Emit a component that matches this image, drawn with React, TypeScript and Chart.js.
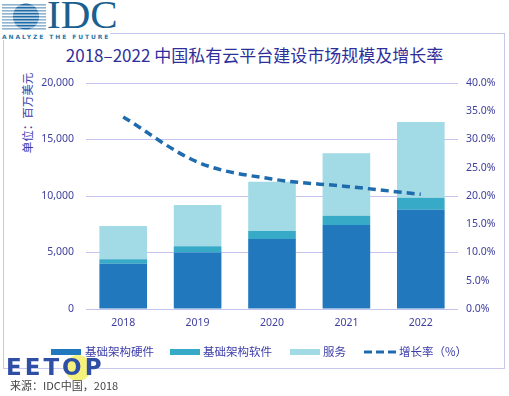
import React, { useEffect, useRef } from "react";
import { Chart, registerables } from "chart.js";
Chart.register(...registerables);

const years = ["2018", "2019", "2020", "2021", "2022"];
const hardware = [4000, 5000, 6200, 7430, 8790];
const software = [400, 550, 700, 830, 1060];
const services = [2950, 3650, 4370, 5520, 6700];
const growth = [34.0, 26.0, 23.0, 21.7, 20.3];

const seriesNames = ["基础架构硬件", "基础架构软件", "服务", "增长率（%）"];
const colors = ["#2178BC", "#36AAC6", "#A2DAE5", "#1F6BAE"];

const tickColor = "#40409f";
const tickFont = { family: "'Noto Sans', sans-serif", size: 10.5 };

export default function App() {
  const ref = useRef<HTMLCanvasElement>(null);

  useEffect(() => {
    if (!ref.current) return;
    const chart = new Chart(ref.current, {
      type: "bar",
      data: {
        labels: years,
        datasets: [
          {
            type: "line",
            label: seriesNames[3],
            data: growth,
            yAxisID: "y1",
            borderColor: colors[3],
            borderWidth: 3.5,
            borderDash: [8, 5],
            pointRadius: 0,
            cubicInterpolationMode: "monotone",
            fill: false,
            order: 0,
          } as any,
          {
            label: seriesNames[0],
            data: hardware,
            backgroundColor: colors[0],
            yAxisID: "y",
            order: 1,
            barPercentage: 0.64,
            categoryPercentage: 1,
          },
          {
            label: seriesNames[1],
            data: software,
            backgroundColor: colors[1],
            yAxisID: "y",
            order: 1,
            barPercentage: 0.64,
            categoryPercentage: 1,
          },
          {
            label: seriesNames[2],
            data: services,
            backgroundColor: colors[2],
            yAxisID: "y",
            order: 1,
            barPercentage: 0.64,
            categoryPercentage: 1,
          },
        ],
      },
      options: {
        animation: false,
        responsive: false,
        maintainAspectRatio: false,
        layout: { padding: { top: 83, bottom: 57, left: 0, right: 0 } },
        plugins: {
          legend: { display: false },
          tooltip: { enabled: false },
          title: { display: false },
        },
        scales: {
          x: {
            stacked: true,
            grid: { display: false, drawTicks: false },
            border: { display: false },
            ticks: { color: tickColor, font: tickFont, padding: 8 },
            afterFit: (s: any) => {
              s.height = 30;
            },
          },
          y: {
            stacked: true,
            position: "left",
            min: 0,
            max: 20000,
            ticks: {
              stepSize: 5000,
              color: tickColor,
              font: tickFont,
              padding: 12,
              callback: (v: any) => Number(v).toLocaleString("en-US"),
            },
            grid: { color: "#c4c4ee", drawTicks: false, lineWidth: 1 },
            border: { display: false },
            afterFit: (s: any) => {
              s.width = 86;
            },
          },
          y1: {
            position: "right",
            min: 0,
            max: 40,
            ticks: {
              stepSize: 5,
              color: tickColor,
              font: tickFont,
              padding: 8,
              callback: (v: any) => Number(v).toFixed(1) + "%",
            },
            grid: { display: false, drawTicks: false },
            border: { display: false },
            afterFit: (s: any) => {
              s.width = 51;
            },
          },
        },
      } as any,
    });
    return () => chart.destroy();
  }, []);

  const cjk = "'Noto Sans CJK SC', sans-serif";
  const legendItems = [
    { x: 51, tx: 85, i: 0 },
    { x: 170, tx: 203, i: 1 },
    { x: 290, tx: 323, i: 2 },
    { x: 364, tx: 399, i: 3 },
  ];

  const stripes = [];
  for (let k = 0; k < 9; k++) {
    const y = 4 + k * 3;
    stripes.push(y);
  }

  return (
    <div
      style={{
        position: "absolute",
        left: 0,
        top: 0,
        width: 509,
        height: 396,
        background: "#fff",
        overflow: "hidden",
      }}
    >
      {/* frame */}
      <div
        style={{
          position: "absolute",
          left: 3,
          top: 33,
          width: 500,
          height: 334,
          border: "1.5px solid #c8c8ec",
        }}
      />
      {/* IDC logo */}
      <svg
        width={50}
        height={32}
        style={{ position: "absolute", left: 0, top: 0 }}
      >
        <defs>
          <clipPath id="g">
            <circle cx={26} cy={16.5} r={13} />
          </clipPath>
        </defs>
        {stripes.map((y, k) => (
          <rect key={"l" + k} x={2} y={y} width={44} height={1.6} fill="#8fb3cf" />
        ))}
        <g clipPath="url(#g)">
          <rect x={0} y={0} width={50} height={32} fill="#1d6aa6" />
          {stripes.map((y, k) => (
            <rect key={"w" + k} x={0} y={y + 1.6} width={50} height={1.1} fill="#ffffff" />
          ))}
        </g>
      </svg>
      <div
        style={{
          position: "absolute",
          left: 47,
          top: -6,
          fontFamily: "'Liberation Serif', serif",
          fontSize: 41,
          color: "#1a5f8f",
          lineHeight: "41px",
        }}
      >
        IDC
      </div>
      <div
        style={{
          position: "absolute",
          left: 2,
          top: 33,
          fontFamily: "'DejaVu Sans', sans-serif",
          fontWeight: "bold",
          fontSize: 6,
          letterSpacing: 1.9,
          color: "#2a78a8",
          lineHeight: "7px",
          background: "#fff",
          whiteSpace: "nowrap",
        }}
      >
        ANALYZE THE FUTURE
      </div>
      {/* title */}
      <div
        style={{
          position: "absolute",
          left: 0,
          top: 45,
          width: 509,
          textAlign: "center",
          fontFamily: cjk,
          fontSize: 17,
          lineHeight: "20px",
          color: "#2f2f9c",
          whiteSpace: "nowrap",
        }}
      >
        2018–2022 中国私有云平台建设市场规模及增长率
      </div>
      {/* axis title */}
      <div
        style={{
          position: "absolute",
          left: 27 - 50,
          top: 113 - 8,
          width: 100,
          height: 16,
          lineHeight: "16px",
          textAlign: "center",
          fontFamily: cjk,
          fontSize: 11.5,
          color: "#3a3ab0",
          transform: "rotate(-90deg)",
          whiteSpace: "nowrap",
        }}
      >
        单位：百万美元
      </div>
      <canvas
        ref={ref}
        width={509}
        height={396}
        style={{ position: "absolute", left: 0, top: 0, width: 509, height: 396 }}
      />
      {/* legend */}
      {legendItems.map((it) => (
        <React.Fragment key={it.i}>
          {it.i < 3 ? (
            <div
              style={{
                position: "absolute",
                left: it.x,
                top: 348.5,
                width: 30,
                height: 6,
                background: colors[it.i],
              }}
            />
          ) : (
            <svg
              width={32}
              height={6}
              style={{ position: "absolute", left: it.x, top: 348.5 }}
            >
              <line
                x1={0}
                y1={3}
                x2={32}
                y2={3}
                stroke={colors[3]}
                strokeWidth={3}
                strokeDasharray="8,4"
              />
            </svg>
          )}
          <div
            style={{
              position: "absolute",
              left: it.tx,
              top: 343,
              fontFamily: cjk,
              fontSize: 11.5,
              lineHeight: "16px",
              color: "#3d3da8",
              whiteSpace: "nowrap",
            }}
          >
            {seriesNames[it.i]}
          </div>
        </React.Fragment>
      ))}
      {/* EETOP watermark */}
      <div
        style={{
          position: "absolute",
          left: 65,
          top: 355,
          width: 26,
          height: 26,
          borderRadius: 13,
          background: "#f6f07c",
        }}
      />
      <div
        style={{
          position: "absolute",
          left: 6,
          top: 353,
          fontFamily: "'DejaVu Sans', sans-serif",
          fontWeight: "bold",
          fontSize: 23,
          lineHeight: "28px",
          letterSpacing: 3,
          color: "#2f4fa6",
          whiteSpace: "nowrap",
        }}
      >
        EETOP
      </div>
      {/* source */}
      <div
        style={{
          position: "absolute",
          left: 10,
          top: 377,
          fontFamily: cjk,
          fontSize: 11,
          lineHeight: "16px",
          color: "#444",
          whiteSpace: "nowrap",
        }}
      >
        来源：IDC中国，2018
      </div>
    </div>
  );
}
